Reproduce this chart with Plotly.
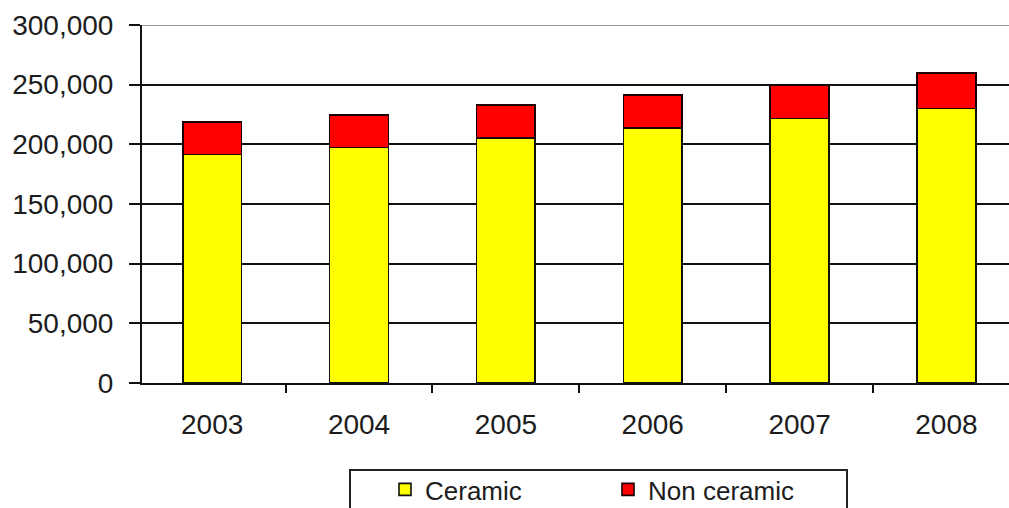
import plotly.graph_objects as go

# Annual volumes by product type
years = ["2003", "2004", "2005", "2006", "2007", "2008"]
ceramic = [191500, 197500, 205500, 213500, 221700, 230000]
non_ceramic = [27000, 27000, 27400, 27600, 27500, 29800]
y_ticks = [0, 50000, 100000, 150000, 200000, 250000, 300000]

W, H = 1009, 508
PLOT_L, PLOT_R = 142, 1009
PLOT_T, PLOT_B = 25, 383
FONT = "Liberation Sans, Arial, sans-serif"
TEXT = "#1c1c1c"


def px_to_paper_x(px):
    return (px - PLOT_L) / (PLOT_R - PLOT_L)


def px_to_paper_y(py):
    return (PLOT_B - py) / (PLOT_B - PLOT_T)


fig = go.Figure()
fig.add_bar(
    x=years, y=ceramic, name="Ceramic",
    marker=dict(color="#FFFF00", line=dict(color="#111111", width=1.6)),
)
fig.add_bar(
    x=years, y=non_ceramic, name="Non ceramic",
    marker=dict(color="#FF0000", line=dict(color="#1a0000", width=1.6)),
)

fig.update_layout(
    width=W, height=H,
    margin=dict(l=PLOT_L, r=W - PLOT_R, t=PLOT_T, b=H - PLOT_B, pad=0, autoexpand=False),
    paper_bgcolor="white", plot_bgcolor="white",
    barmode="stack", bargap=0.6,
    font=dict(family=FONT, size=28, color=TEXT),
    showlegend=True,
    legend=dict(
        orientation="h",
        xref="container", yref="container",
        x=385 / W, xanchor="left",
        y=1 - 466 / H, yanchor="top",
        entrywidth=178, entrywidthmode="pixels",
        bgcolor="rgba(0,0,0,0)", borderwidth=0,
        font=dict(family=FONT, size=26, color=TEXT),
        traceorder="normal",
    ),
    shapes=[
        # legend frame
        dict(type="rect", xref="paper", yref="paper",
             x0=px_to_paper_x(350), x1=px_to_paper_x(847),
             y0=px_to_paper_y(470), y1=px_to_paper_y(540),
             line=dict(color="#222222", width=2), fillcolor="rgba(0,0,0,0)",
             layer="above"),
        # lighter top border of the plot area
        dict(type="line", xref="paper", yref="y",
             x0=0, x1=1, y0=300000, y1=300000,
             line=dict(color="#9a9a9a", width=2), layer="above"),
    ],
)

fig.update_xaxes(
    type="category",
    range=[-0.478, 5.426],
    showgrid=False,
    showline=True, linecolor="#111111", linewidth=2,
    ticks="outside", tickson="boundaries", ticklen=8, tickwidth=2, tickcolor="#111111",
    ticklabelstandoff=15,
    tickfont=dict(family=FONT, size=28, color=TEXT),
)
fig.update_yaxes(
    range=[0, 300000],
    tickvals=y_ticks, tickformat=",d",
    showgrid=True, gridcolor="#111111", gridwidth=2,
    showline=True, linecolor="#111111", linewidth=2,
    ticks="outside", ticklen=11, tickwidth=2, tickcolor="#111111",
    ticklabelstandoff=10,
    tickfont=dict(family=FONT, size=28, color=TEXT),
    zeroline=False,
)

fig.write_html("out.html")
